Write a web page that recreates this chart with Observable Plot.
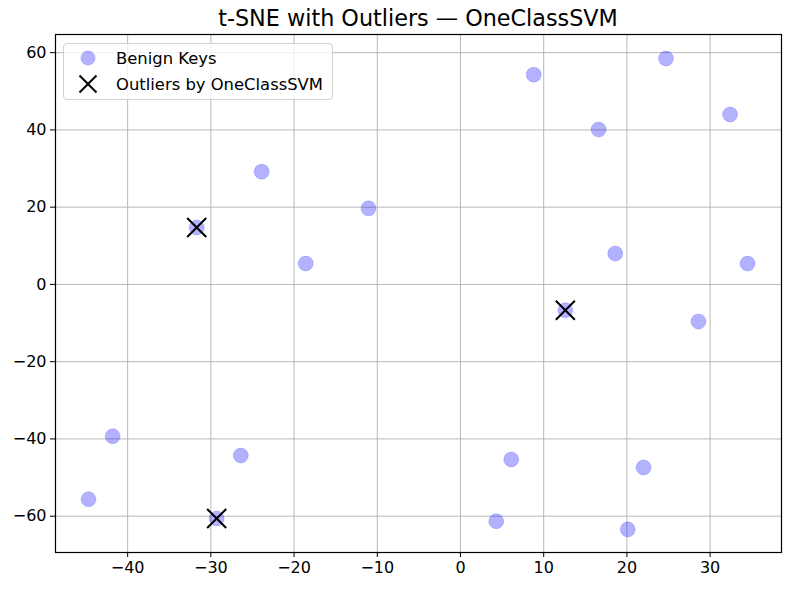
<!DOCTYPE html>
<html>
<head>
<meta charset="utf-8">
<script src="https://cdn.jsdelivr.net/npm/d3@7"></script>
<script src="https://cdn.jsdelivr.net/npm/@observablehq/plot@0.6"></script>
<style>
  html, body { margin: 0; padding: 0; background: #fff; }
  #wrap { position: relative; width: 790px; height: 590px; font-family: "DejaVu Sans", sans-serif; }
  #title { position: absolute; top: 5px; left: 55px; width: 726px; text-align: center; font-size: 22.3px; color: #000; }
  #legend { position: absolute; left: 63px; top: 43px; width: 270px; height: 57px; border: 1px solid #d0d0d0; border-radius: 4px; background: rgba(255,255,255,0.8); font-size: 16.4px; box-sizing: border-box; }
  .row { position: absolute; left: 0; height: 20px; display: flex; align-items: center; }
  .row svg { position: absolute; left: 14px; }
  .row span { position: absolute; left: 52px; white-space: nowrap; }
</style>
</head>
<body>
<div id="wrap">
  <div id="chart"></div>
  <div id="title">t-SNE with Outliers — OneClassSVM</div>
  <div id="legend">
    <div class="row" style="top:4px"><svg width="20" height="20"><circle cx="10" cy="10" r="7.5" fill="#0000ff" fill-opacity="0.3"/></svg><span>Benign Keys</span></div>
    <div class="row" style="top:30px"><svg width="20" height="20"><path d="M1.5,1.5L18.5,18.5M1.5,18.5L18.5,1.5" stroke="#000" stroke-width="2"/></svg><span>Outliers by OneClassSVM</span></div>
  </div>
</div>
<script>
// Benign points (t-SNE coordinates)
const benignX = [-44.7, -41.8, -26.4, -29.3, -31.7, -23.9, -18.6, -11.05, 8.8, 24.7, 16.6, 32.4, 18.6, 34.5, 28.6, 12.6, 6.1, 22.0, 4.3, 20.1];
const benignY = [-55.6, -39.3, -44.3, -60.6, 14.75, 29.2, 5.4, 19.7, 54.3, 58.5, 40.1, 44.0, 8.0, 5.4, -9.6, -6.7, -45.3, -47.4, -61.3, -63.4];
// Outliers detected by OneClassSVM
const outlierX = [-31.7, -29.3, 12.6];
const outlierY = [14.75, -60.6, -6.7];
const xTicks = [-40, -30, -20, -10, 0, 10, 20, 30];
const yTicks = [-60, -40, -20, 0, 20, 40, 60];

const benign = benignX.map((x, i) => ({x, y: benignY[i]}));
const outliers = outlierX.map((x, i) => ({x, y: outlierY[i]}));
const fmt = d => d < 0 ? "\u2212" + Math.abs(d) : String(d);

const chart = Plot.plot({
  width: 790,
  height: 590,
  marginLeft: 55,
  marginRight: 9,
  marginTop: 34,
  marginBottom: 38,
  style: { fontFamily: "DejaVu Sans, sans-serif", fontSize: "16px", color: "#000", background: "#fff" },
  x: { domain: [-48.67, 38.58], ticks: xTicks },
  y: { domain: [-69.4, 64.7], ticks: yTicks },
  marks: [
    Plot.gridX(xTicks, { stroke: "#b0b0b0", strokeOpacity: 1, strokeWidth: 0.9 }),
    Plot.gridY(yTicks, { stroke: "#b0b0b0", strokeOpacity: 1, strokeWidth: 0.9 }),
    Plot.axisX(xTicks, { tickSize: 5, tickPadding: 4, tickFormat: fmt, label: null, stroke: "#000", fontSize: 16 }),
    Plot.axisY(yTicks, { tickSize: 5, tickPadding: 4, tickFormat: fmt, label: null, stroke: "#000", fontSize: 16 }),
    Plot.dot(benign, { x: "x", y: "y", r: 7.5, fill: "#0000ff", fillOpacity: 0.3, stroke: "#0000ff", strokeOpacity: 0.15, strokeWidth: 1 }),
    Plot.dot(outliers, { x: "x", y: "y", symbol: "times", r: 8.7, stroke: "#000", strokeWidth: 2 }),
    Plot.frame({ stroke: "#000", strokeWidth: 1.2 })
  ]
});
document.getElementById("chart").appendChild(chart);
</script>
</body>
</html>
